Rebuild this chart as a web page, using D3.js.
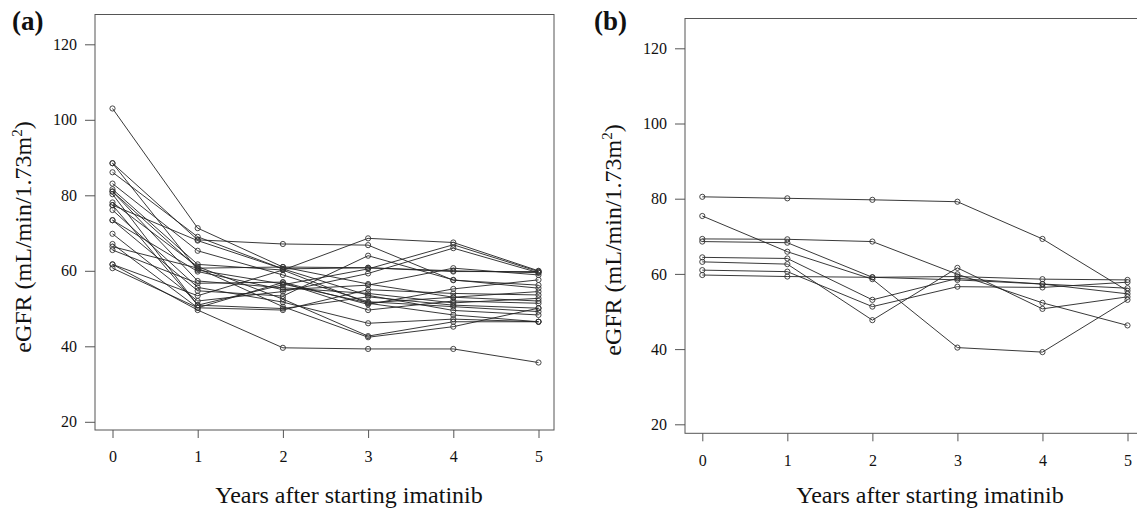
<!DOCTYPE html>
<html>
<head>
<meta charset="utf-8">
<script src="https://cdn.jsdelivr.net/npm/d3@7"></script>
<style>
  body { margin: 0; background: #fff; }
  svg { display: block; font-family: "Liberation Serif", "Times New Roman", serif; }
</style>
</head>
<body>
<div id="chart"></div>
<script>
// years after starting imatinib (x axis)
var years = [0, 1, 2, 3, 4, 5];
var yTicks = [20, 40, 60, 80, 100, 120];

// (a) eGFR per patient, one row per patient
var groupA = [
  [103.0, 71.3, 61.0, 56.5, 53.0, 52.0],
  [88.5, 68.2, 67.1, 66.8, 57.5, 56.2],
  [88.5, 60.2, 56.5, 51.5, 53.0, 54.5],
  [86.1, 69.0, 60.5, 60.8, 60.0, 59.5],
  [83.1, 65.3, 58.9, 51.8, 50.5, 49.2],
  [81.6, 61.7, 60.2, 68.6, 67.5, 60.0],
  [81.0, 57.3, 55.5, 54.0, 51.5, 52.7],
  [81.0, 60.7, 61.0, 60.8, 59.8, 59.8],
  [80.3, 50.9, 56.3, 60.5, 66.9, 59.8],
  [78.1, 61.1, 52.5, 42.7, 46.5, 46.5],
  [77.4, 68.0, 60.5, 53.5, 49.5, 48.3],
  [77.4, 50.9, 50.0, 53.1, 50.9, 50.1],
  [76.1, 55.6, 51.7, 46.1, 47.2, 46.5],
  [73.4, 59.8, 55.0, 56.2, 60.7, 58.9],
  [73.4, 54.7, 53.3, 64.0, 57.6, 55.4],
  [69.8, 52.0, 54.5, 59.3, 66.0, 59.5],
  [67.1, 50.2, 49.6, 55.0, 54.0, 53.6],
  [66.4, 60.7, 50.5, 42.4, 45.2, 50.1],
  [65.5, 56.7, 57.0, 51.1, 55.2, 57.6],
  [61.7, 49.6, 39.6, 39.3, 39.3, 35.7],
  [61.7, 53.4, 60.2, 51.4, 48.3, 46.5],
  [60.7, 50.2, 56.9, 49.6, 52.0, 51.4]
];

// (b) eGFR per patient
var groupB = [
  [80.5, 80.1, 79.7, 79.2, 69.3, 55.5],
  [75.4, 65.9, 58.6, 40.4, 39.2, 53.1],
  [69.3, 69.2, 68.6, 59.9, 52.3, 46.3],
  [68.6, 68.3, 59.1, 59.3, 58.6, 58.4],
  [64.4, 64.1, 53.1, 58.8, 57.3, 56.2],
  [63.2, 62.6, 47.7, 61.6, 50.7, 53.9],
  [61.0, 60.6, 51.3, 56.6, 56.4, 57.8],
  [59.7, 59.3, 59.1, 58.4, 57.3, 54.7]
];

var svg = d3.select("#chart")
  .append("svg")
  .attr("width", 1137)
  .attr("height", 509);

function drawPanel(p) {
  var g = svg.append("g");

  var x = d3.scaleLinear().domain([0, 5]).range([p.x0, p.x5]);
  var y = d3.scaleLinear().domain([20, 120]).range([p.y20, p.y120]);

  // plot frame
  g.append("rect")
    .attr("x", p.left)
    .attr("y", p.top)
    .attr("width", p.right - p.left)
    .attr("height", p.bottom - p.top)
    .attr("fill", "none")
    .attr("stroke", "#555")
    .attr("stroke-width", 1);

  // Y axis
  var yAxis = g.append("g")
    .attr("transform", "translate(" + p.left + ",0)")
    .call(d3.axisLeft(y).tickValues(yTicks).tickSize(10).tickPadding(8));
  yAxis.select(".domain").remove();

  // X axis
  var xAxis = g.append("g")
    .attr("transform", "translate(0," + p.bottom + ")")
    .call(d3.axisBottom(x).tickValues(years).tickSize(8).tickPadding(13).tickFormat(d3.format("d")));
  xAxis.select(".domain").remove();

  g.selectAll(".tick line").attr("stroke", "#555");
  g.selectAll(".tick text")
    .attr("fill", "#111")
    .style("font-size", "16px")
    .style("font-family", "'Liberation Serif', serif");

  // one line per patient
  var line = d3.line()
    .x(function (d, i) { return x(years[i]); })
    .y(function (d) { return y(d); });

  g.append("g")
    .selectAll("path")
    .data(p.series)
    .enter()
    .append("path")
    .attr("d", line)
    .attr("fill", "none")
    .attr("stroke", "#222")
    .attr("stroke-width", 0.9);

  // open circles at every visit
  p.series.forEach(function (s) {
    g.append("g")
      .selectAll("circle")
      .data(s)
      .enter()
      .append("circle")
      .attr("cx", function (d, i) { return x(years[i]); })
      .attr("cy", function (d) { return y(d); })
      .attr("r", 2.6)
      .attr("fill", "none")
      .attr("stroke", "#333")
      .attr("stroke-width", 0.9);
  });

  // axis titles
  g.append("text")
    .attr("x", p.xTitleX)
    .attr("y", 503)
    .attr("text-anchor", "middle")
    .style("font-size", "24px")
    .attr("fill", "#111")
    .text("Years after starting imatinib");

  var yt = g.append("text")
    .attr("transform", "translate(" + p.yTitleX + "," + p.yTitleY + ") rotate(-90)")
    .attr("text-anchor", "middle")
    .style("font-size", "24px")
    .attr("fill", "#111");
  yt.append("tspan").text("eGFR (mL/min/1.73m");
  yt.append("tspan").attr("dy", -9).style("font-size", "15px").text("2");
  yt.append("tspan").attr("dy", 9).text(")");

  // panel letter
  g.append("text")
    .attr("x", p.labelX)
    .attr("y", 30)
    .style("font-size", "27px")
    .style("font-weight", "bold")
    .attr("fill", "#111")
    .text(p.label);
}

drawPanel({
  series: groupA, label: "(a)", labelX: 12,
  left: 95, right: 554, top: 14.5, bottom: 430,
  x0: 112.5, x5: 538.5, y20: 421.8, y120: 44.3,
  xTitleX: 349, yTitleX: 31, yTitleY: 237
});

drawPanel({
  series: groupB, label: "(b)", labelX: 594,
  left: 685, right: 1150, top: 18.5, bottom: 433.3,
  x0: 702.3, x5: 1127.5, y20: 424.3, y120: 48.3,
  xTitleX: 930, yTitleX: 621, yTitleY: 240
});
</script>
</body>
</html>
